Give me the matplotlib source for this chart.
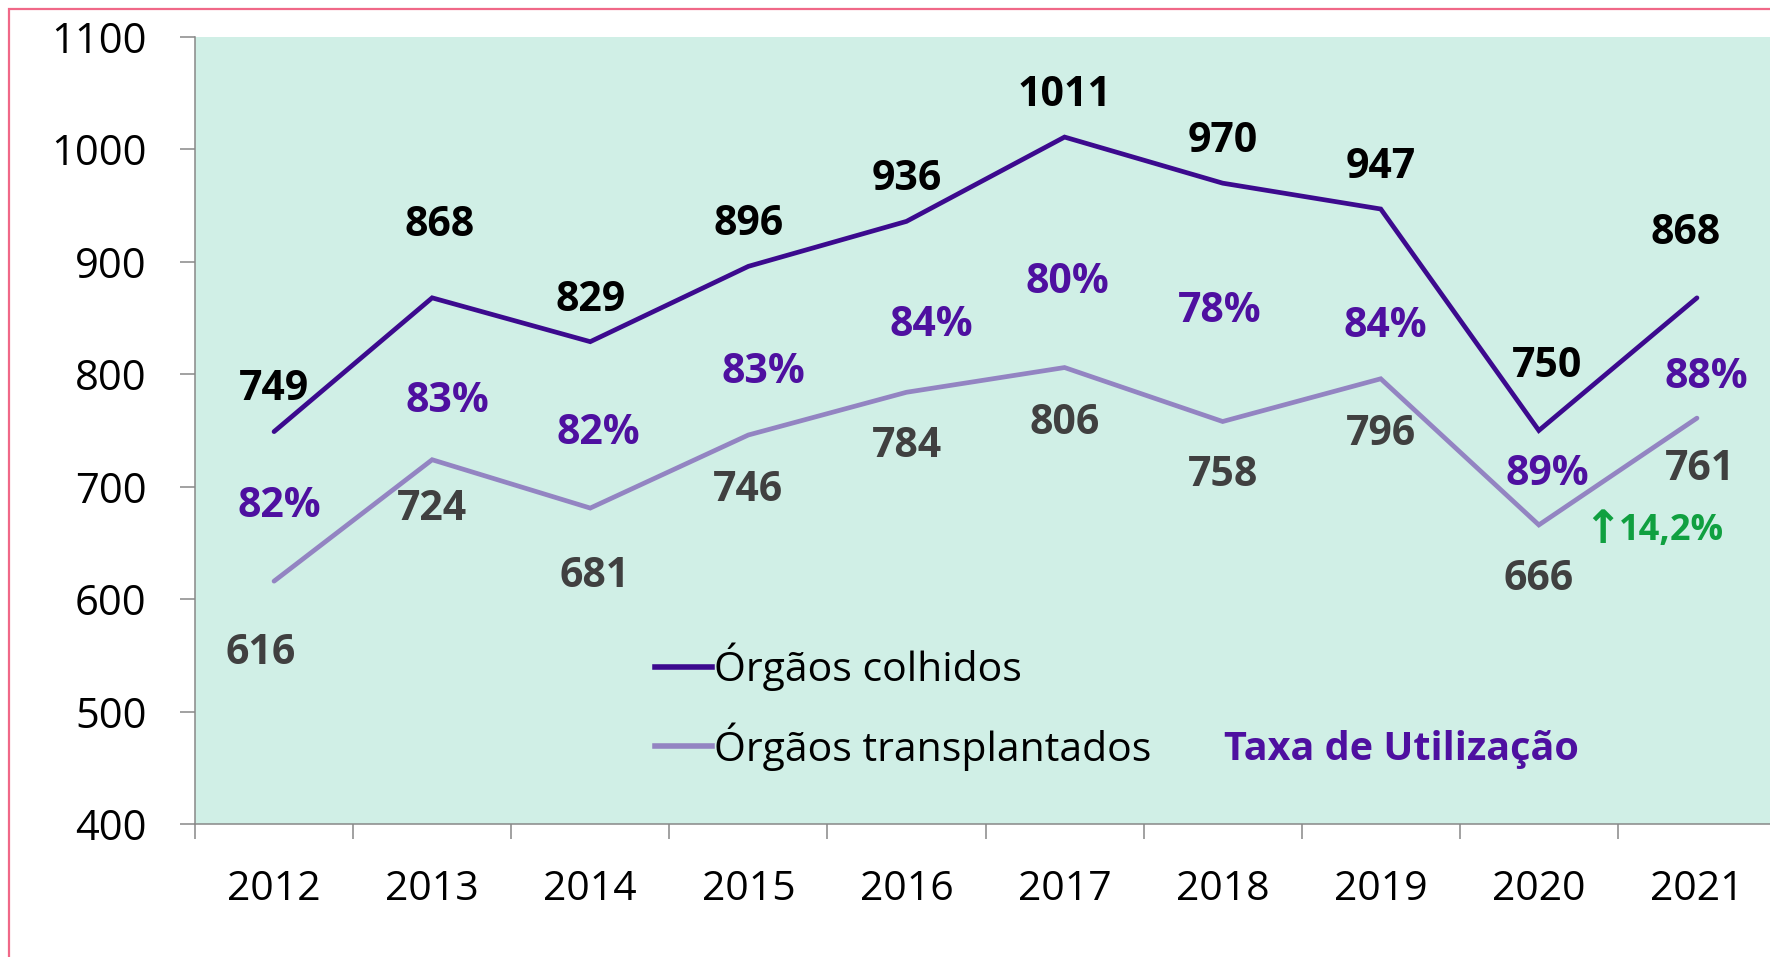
import matplotlib.pyplot as plt
from matplotlib.patches import Rectangle
from matplotlib.lines import Line2D

# data
years = ['2012', '2013', '2014', '2015', '2016', '2017', '2018', '2019', '2020', '2021']
colhidos = [749, 868, 829, 896, 936, 1011, 970, 947, 750, 868]
transplantados = [616, 724, 681, 746, 784, 806, 758, 796, 666, 761]
taxa = [82, 83, 82, 83, 84, 80, 78, 84, 89, 88]
variacao = '14,2%'

# label offsets (points) as placed in the original
off_colh = [(0, 30), (5, 52), (0, 30), (0, 30), (0, 30), (0, 30), (0, 30), (0, 30), (6, 46), (-8, 46)]
off_trans = [(-10, -52), (0, -36), (3, -49), (0, -40), (0, -39), (0, -40), (0, -39), (0, -40), (0, -39), (2, -37)]
off_taxa = [(4, 54), (11, 42), (6, 54), (11, 45), (18, 48), (2, 61), (-2, 79), (3, 38), (6, 36), (7, 29)]

plt.rcParams['font.family'] = ['Open Sans', 'DejaVu Sans']

c_dark = '#3c0a8e'
c_light = '#9384c2'
c_pct = '#4e10a0'
c_green = '#10a040'
bg = '#d0efe6'

fig = plt.figure(figsize=(17.7, 9.57), dpi=100)
ax = fig.add_axes([195 / 1770, 1 - 824 / 957, 1581 / 1770, 787 / 957])
ax.set_facecolor(bg)

x = list(range(len(years)))
ax.plot(x, colhidos, color=c_dark, lw=3.4, solid_capstyle='round', solid_joinstyle='miter')
ax.plot(x, transplantados, color=c_light, lw=3.4, solid_capstyle='round', solid_joinstyle='miter')

for i in x:
    ax.annotate(str(colhidos[i]), (i, colhidos[i]), xytext=off_colh[i], textcoords='offset points',
                ha='center', va='center', fontsize=29.5, fontweight='bold', color='black')
    ax.annotate(str(transplantados[i]), (i, transplantados[i]), xytext=off_trans[i], textcoords='offset points',
                ha='center', va='center', fontsize=29.5, fontweight='bold', color='#404040')
    ax.annotate(f'{taxa[i]}%', (i, transplantados[i]), xytext=off_taxa[i], textcoords='offset points',
                ha='center', va='center', fontsize=29.5, fontweight='bold', color=c_pct)

# growth note next to 2021
ax.annotate('\u2191', (9, transplantados[9]), xytext=(-68, -81), textcoords='offset points',
            ha='center', va='center', fontsize=33, fontweight='bold', color=c_green, family='DejaVu Sans')
ax.annotate(variacao, (9, transplantados[9]), xytext=(-56, -81), textcoords='offset points',
            ha='left', va='center', fontsize=26, fontweight='bold', color=c_green)

ax.set_xlim(-0.5, len(years) - 0.5)
ax.set_ylim(400, 1100)
ax.set_yticks(range(400, 1101, 100))
ax.set_xticks(x)
ax.set_xticklabels(years)
ax.set_xticks([i - 0.5 for i in range(len(years) + 1)], minor=True)
ax.tick_params(axis='x', which='major', length=0, pad=33, labelsize=29.5)
ax.tick_params(axis='x', which='minor', length=11, width=1.1, color='#888888', direction='out')
ax.tick_params(axis='y', length=11, width=1.1, color='#888888', pad=24, labelsize=30)

for s in ['top', 'right']:
    ax.spines[s].set_visible(False)
for s in ['left', 'bottom']:
    ax.spines[s].set_color('#888888')
    ax.spines[s].set_linewidth(1.1)

handles = [Line2D([], [], color=c_dark, lw=4), Line2D([], [], color=c_light, lw=4)]
ax.legend(handles, ['Órgãos colhidos', 'Órgãos transplantados'], loc='center left',
          bbox_to_anchor=(0.291, 0.149), frameon=False, fontsize=29.5, handlelength=1.4,
          handletextpad=0.05, borderpad=0, borderaxespad=0, labelspacing=0.75)
ax.text(0.651, 0.095, 'Taxa de Utilização', transform=ax.transAxes, ha='left', va='center',
        fontsize=28.5, fontweight='bold', color=c_pct)

# pink frame of the original slide, cropped at right and bottom
fig.patches.append(Rectangle((9 / 1770, -0.1), 1.2, 1 - 9 / 957 + 0.1, transform=fig.transFigure,
                             fill=False, edgecolor='#f06888', lw=1.6, zorder=0))

fig.savefig('out.png', dpi=100)
